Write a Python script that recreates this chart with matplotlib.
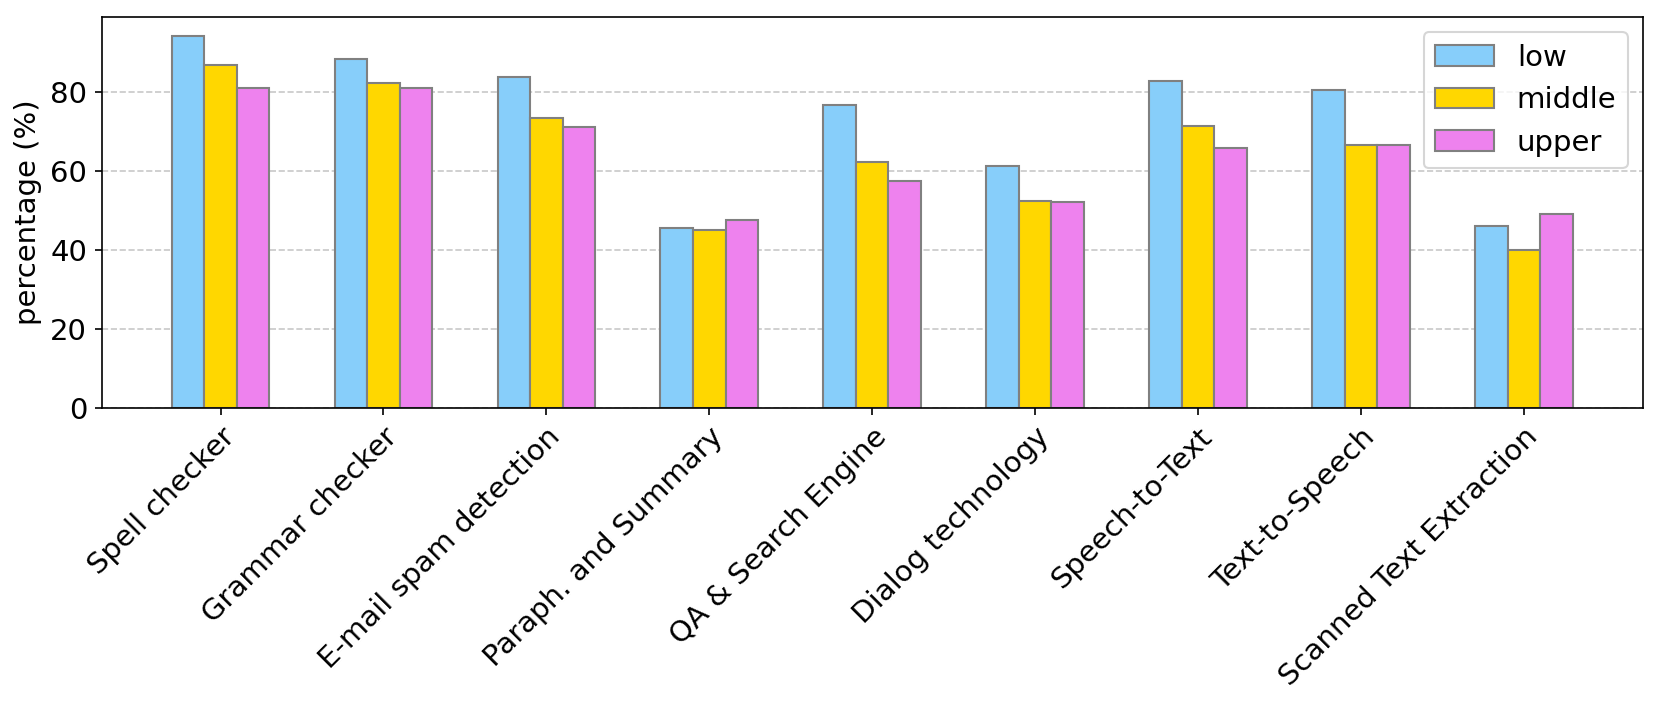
import numpy as np
import matplotlib
matplotlib.use("Agg")
import matplotlib.pyplot as plt

categories = ["Spell checker", "Grammar checker", "E-mail spam detection",
              "Paraph. and Summary", "QA & Search Engine", "Dialog technology",
              "Speech-to-Text", "Text-to-Speech", "Scanned Text Extraction"]
low = [94.1, 88.3, 83.7, 45.4, 76.7, 61.3, 82.6, 80.3, 46.1]
middle = [86.7, 82.3, 73.3, 44.9, 62.2, 52.3, 71.4, 66.5, 39.9]
upper = [80.9, 80.9, 71.1, 47.6, 57.5, 52.2, 65.8, 66.5, 49.1]

series = [("low", low, "lightskyblue"),
          ("middle", middle, "gold"),
          ("upper", upper, "violet")]

fig, ax = plt.subplots(figsize=(1661 / 150, 712 / 150), dpi=150)
fig.subplots_adjust(left=0.0612, right=0.989, top=0.9757, bottom=0.427)

x = np.arange(len(categories))
w = 0.2
for i, (name, vals, col) in enumerate(series):
    ax.bar(x + (i - 1) * w, vals, w, label=name, color=col, edgecolor="grey", linewidth=1.0)

ax.set_xticks(x)
ax.set_xticklabels(categories, rotation=45, ha="right", rotation_mode="anchor", fontsize=14)
ax.tick_params(axis="y", labelsize=14)
ax.set_ylabel("percentage (%)", fontsize=14)
ax.yaxis.grid(True, linestyle="--", color="#c8c8c8")
ax.set_axisbelow(True)
ax.legend(loc="upper right", fontsize=14)

plt.savefig("out.png")
